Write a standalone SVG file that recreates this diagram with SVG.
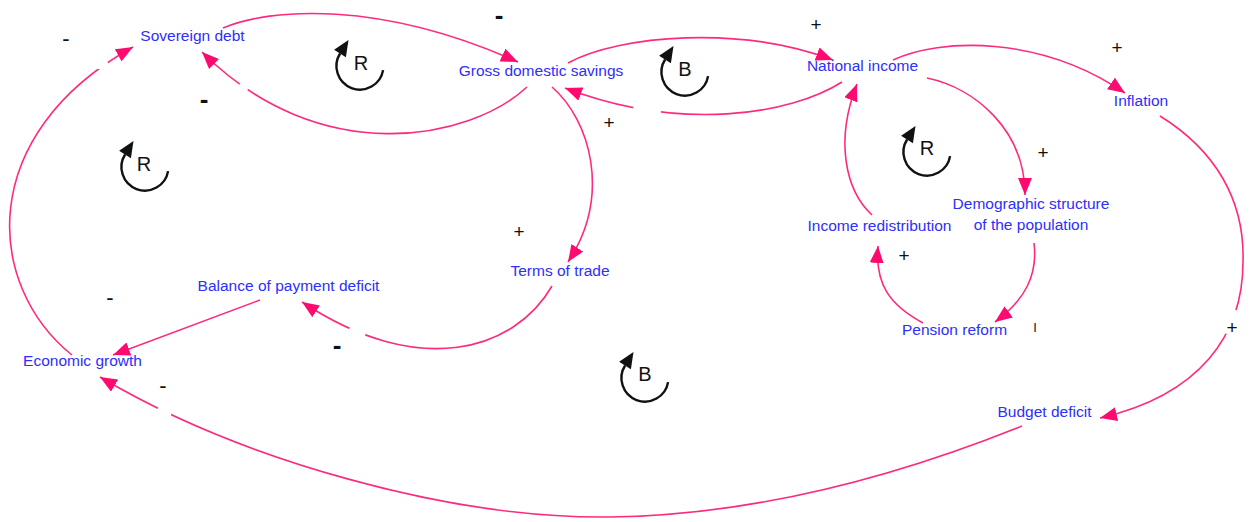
<svg xmlns="http://www.w3.org/2000/svg" width="1251" height="522" viewBox="0 0 1251 522">
  <defs>
    <style>
      .node { font-family: "Liberation Sans", Arial, sans-serif; font-size: 15.5px; fill: #2e2eff; text-anchor: middle; }
      .link { fill: none; stroke: #ff2a7c; stroke-width: 1.6; marker-end: url(#head); }
      .sign { font-family: "Liberation Sans", Arial, sans-serif; fill: #111; text-anchor: middle; }
      .plus { font-size: 19px; }
      .minus { font-size: 22px; }
      .minus-bold { font-size: 26px; font-weight: bold; }
      .bar { font-size: 13px; }
      .loop-arc { fill: none; stroke: #111; stroke-width: 2.4; }
      .loop-head { fill: #111; }
      .loop-letter { font-family: "Liberation Sans", Arial, sans-serif; font-size: 20px; fill: #111; text-anchor: middle; }
    </style>
    <marker id="head" markerUnits="userSpaceOnUse" viewBox="0 0 18 14" refX="17" refY="7" markerWidth="18" markerHeight="14" orient="auto">
      <path d="M0,0 L17,7 L0,14 z" fill="#ff0a6e"/>
    </marker>
    <!-- circular loop marker, centred on 0,0 -->
    <g id="loop-mark">
      <path class="loop-arc" d="M23.1,4.1 A23.5,23.5 0 1 1 -19.9,-12.5"/>
      <path class="loop-head" d="M-11.5,-26.1 L-25.9,-16.2 L-14.1,-8.8 z"/>
    </g>
    <!-- breaks in a few link lines -->
    <mask id="gaps" maskUnits="userSpaceOnUse" x="0" y="0" width="1251" height="522">
      <rect width="1251" height="522" fill="#fff"/>
      <circle cx="102" cy="64" r="6" fill="#000"/>
      <circle cx="243" cy="88" r="5" fill="#000"/>
      <circle cx="647" cy="110.5" r="14" fill="#000"/>
      <circle cx="356.5" cy="333.5" r="9" fill="#000"/>
      <circle cx="164" cy="412.5" r="7.5" fill="#000"/>
      <circle cx="1229" cy="321" r="13" fill="#000"/>
    </mask>
  </defs>

  <rect width="1251" height="522" fill="#fff"/>

  <!-- causal links -->
  <g id="connectors">
    <g mask="url(#gaps)">
      <path class="link" d="M72,355 C -15,285 -25,135 133,47"/>
      <path class="link" d="M527,87 C 470,140 320,170 202,52"/>
      <path class="link" d="M223,28 C 270,8 380,0 518,62"/>
      <path class="link" d="M568,63 C 620,35 740,25 833,60"/>
      <path class="link" d="M842,82 C 790,115 680,132 565,88"/>
      <path class="link" d="M552,87 C 590,120 612,195 568,262"/>
      <path class="link" d="M552,286 C 515,350 420,380 302,302"/>
      <path class="link" d="M260,300 L113,355"/>
      <path class="link" d="M1022,426 C 900,475 760,515 610,517 C 450,519 240,460 100,377"/>
      <path class="link" d="M893,60 C 940,38 1040,35 1125,93"/>
      <path class="link" d="M1160,116 C 1215,150 1245,200 1243,262 C 1243,335 1200,395 1100,418"/>
      <path class="link" d="M927,78 C 975,88 1025,130 1025,195"/>
      <path class="link" d="M1034,243 C 1038,275 1025,300 995,322"/>
      <path class="link" d="M923,323 C 890,305 875,285 878,246"/>
      <path class="link" d="M872,215 C 845,190 835,140 857,84"/>
    </g>
    <!-- link polarities -->
    <g id="polarities">
      <text class="sign minus" x="66" y="45.5">-</text>
      <text class="sign minus-bold" x="499" y="24">-</text>
      <text class="sign minus-bold" x="204" y="108">-</text>
      <text class="sign plus" x="816" y="30.5">+</text>
      <text class="sign plus" x="609" y="128.5">+</text>
      <text class="sign plus" x="519" y="237.5">+</text>
      <text class="sign minus-bold" x="337" y="354">-</text>
      <text class="sign minus" x="110" y="305">-</text>
      <text class="sign minus" x="163" y="393">-</text>
      <text class="sign plus" x="1117" y="53.5">+</text>
      <text class="sign plus" x="1043" y="158.5">+</text>
      <text class="sign plus" x="904" y="261.5">+</text>
      <text class="sign bar" x="1035" y="332">I</text>
      <text class="sign plus" x="1232" y="333.5">+</text>
    </g>
  </g>

  <!-- variables -->
  <g id="sovereign-debt"><text class="node" x="192.5" y="41">Sovereign debt</text></g>
  <g id="gross-domestic-savings"><text class="node" x="541" y="76">Gross domestic savings</text></g>
  <g id="national-income"><text class="node" x="862.5" y="70.5">National income</text></g>
  <g id="inflation"><text class="node" x="1141" y="105.5">Inflation</text></g>
  <g id="demographic-structure">
    <text class="node" x="1031" y="208.5">Demographic structure</text>
    <text class="node" x="1031" y="230">of the population</text>
  </g>
  <g id="income-redistribution"><text class="node" x="879.5" y="231">Income redistribution</text></g>
  <g id="pension-reform"><text class="node" x="954.5" y="335">Pension reform</text></g>
  <g id="terms-of-trade"><text class="node" x="560" y="275.5">Terms of trade</text></g>
  <g id="balance-of-payment-deficit"><text class="node" x="288.5" y="291">Balance of payment deficit</text></g>
  <g id="economic-growth"><text class="node" x="82.5" y="366">Economic growth</text></g>
  <g id="budget-deficit"><text class="node" x="1044.5" y="417">Budget deficit</text></g>

  <!-- loop markers -->
  <g id="loop-r-top" transform="translate(360,66)">
    <use href="#loop-mark"/>
    <text class="loop-letter" x="1" y="4">R</text>
  </g>
  <g id="loop-b-top" transform="translate(685,72)">
    <use href="#loop-mark"/>
    <text class="loop-letter" x="0" y="4">B</text>
  </g>
  <g id="loop-r-left" transform="translate(145,167)">
    <use href="#loop-mark"/>
    <text class="loop-letter" x="-1" y="4">R</text>
  </g>
  <g id="loop-r-right" transform="translate(927,152)">
    <use href="#loop-mark"/>
    <text class="loop-letter" x="0" y="3">R</text>
  </g>
  <g id="loop-b-bottom" transform="translate(645,378)">
    <use href="#loop-mark"/>
    <text class="loop-letter" x="0" y="3">B</text>
  </g>
</svg>
